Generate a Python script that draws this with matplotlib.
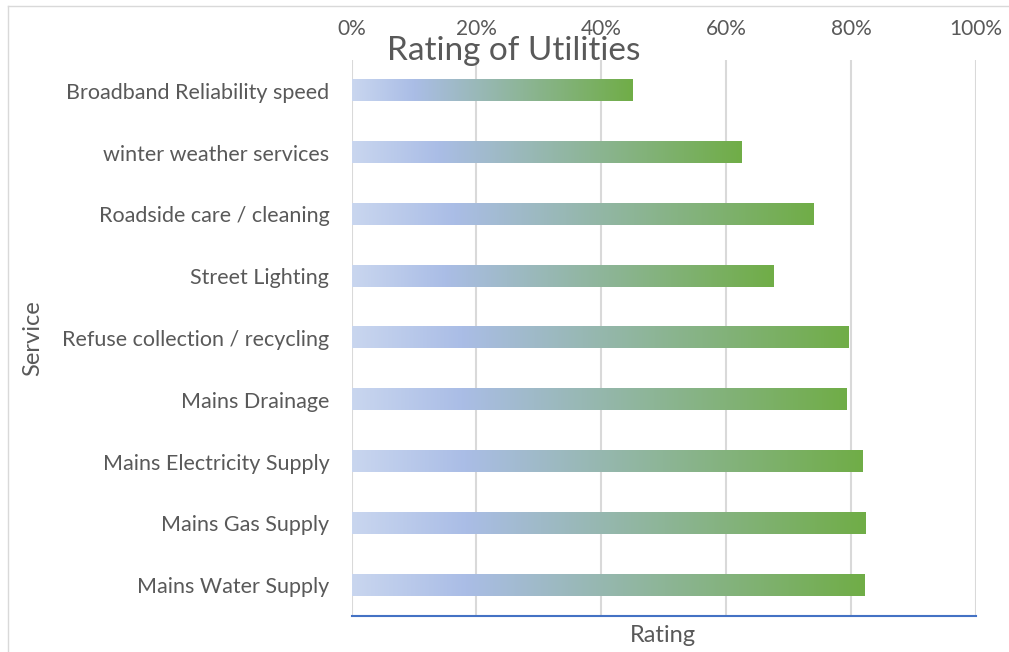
import numpy as np
import matplotlib
matplotlib.use("Agg")
import matplotlib.pyplot as plt
from matplotlib.colors import LinearSegmentedColormap
from matplotlib.lines import Line2D

# Data (top to bottom as shown in the chart)
services = [
    "Broadband Reliability speed",
    "winter weather services",
    "Roadside care / cleaning",
    "Street Lighting",
    "Refuse collection / recycling",
    "Mains Drainage",
    "Mains Electricity Supply",
    "Mains Gas Supply",
    "Mains Water Supply",
]
ratings = [0.449, 0.624, 0.739, 0.675, 0.795, 0.792, 0.817, 0.822, 0.821]
xticks = [0, 0.2, 0.4, 0.6, 0.8, 1.0]
xtick_labels = ["0%", "20%", "40%", "60%", "80%", "100%"]

plt.rcParams['font.family'] = ['Lato', 'DejaVu Sans']
text_col = "#595959"

fig = plt.figure(figsize=(10.09, 6.52), dpi=100)
ax = fig.add_axes([0.3484, 0.0552, 0.6189, 0.8528])

# gradient used inside every bar (Excel style, relative to bar length)
cmap = LinearSegmentedColormap.from_list(
    "util", [(0.0, "#c9d6ef"), (0.22, "#aabde6"), (1.0, "#70ad47")])
grad = np.linspace(0, 1, 256).reshape(1, -1)

ypos = np.arange(len(services))[::-1]
bars = ax.barh(ypos, ratings, height=0.34, color="none", edgecolor="none", zorder=3)
for b in bars:
    x0, y0 = b.get_x(), b.get_y()
    w, h = b.get_width(), b.get_height()
    ax.imshow(grad, cmap=cmap, aspect="auto", extent=[x0, x0 + w, y0, y0 + h],
              zorder=3, interpolation="bilinear")

ax.set_xlim(0, 1.0)
ax.set_ylim(-0.5, len(services) - 0.5)
ax.set_xticks(xticks)
ax.set_xticklabels(xtick_labels)
ax.set_yticks(ypos)
ax.set_yticklabels(services)

ax.xaxis.tick_top()
ax.tick_params(axis="x", length=0, pad=15, labelsize=15, colors=text_col)
ax.tick_params(axis="y", length=0, pad=16, labelsize=15.5, colors=text_col)
ax.grid(axis="x", color="#d9d9d9", linewidth=1.5, zorder=0)
ax.set_axisbelow(True)

for s in ["top", "left", "right"]:
    ax.spines[s].set_visible(False)
ax.spines["bottom"].set_color("#4472c4")
ax.spines["bottom"].set_linewidth(1.5)

fig.text(514 / 1009, 1 - 51 / 652, "Rating of Utilities", ha="center", va="center",
         fontsize=24, color=text_col)
fig.text(663 / 1009, 1 - 636 / 652, "Rating", ha="center", va="center",
         fontsize=17, color=text_col)
fig.text(33 / 1009, 1 - 338 / 652, "Service", ha="center", va="center",
         rotation=90, fontsize=17, color=text_col)

# chart area border (left & top visible in the crop)
fig.add_artist(Line2D([8 / 1009, 8 / 1009], [0, 1 - 6 / 652], color="#d9d9d9", lw=1))
fig.add_artist(Line2D([8 / 1009, 1], [1 - 6 / 652, 1 - 6 / 652], color="#d9d9d9", lw=1))

fig.savefig("out.png", dpi=100)
